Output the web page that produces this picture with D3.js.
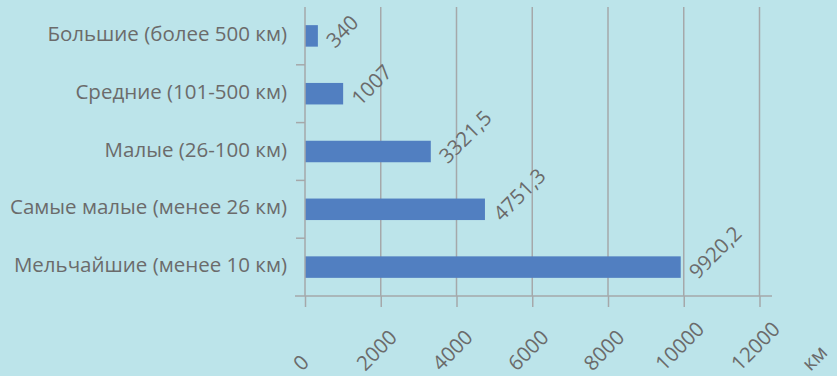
<html>
<head>
<meta charset="utf-8">
<script src="https://d3js.org/d3.v7.min.js"></script>
<style>
    body {
        margin: 0;
        background: #bce4ea;
    }
    svg {
        display: block;
        font-family: 'Open Sans', 'Noto Sans', sans-serif;
    }
    .grid line, .cat-tick, .axis-line {
        stroke: #a5a8aa;
        stroke-width: 1.5;
    }
    .label {
        fill: #6b6b6b;
        font-size: 20.5px;
    }
    .bar {
        fill: #517fc1;
    }
</style>
</head>
<body>

<svg id='chart' width=837 height=376></svg>

<script>

    // data
    var categories = [
        'Большие (более 500 км)',
        'Средние (101-500 км)',
        'Малые (26-100 км)',
        'Самые малые (менее 26 км)',
        'Мельчайшие (менее 10 км)'
    ];
    var lengths = [340, 1007, 3321.5, 4751.3, 9920.2];
    var valueLabels = ['340', '1007', '3321,5', '4751,3', '9920,2'];
    var xTicks = [0, 2000, 4000, 6000, 8000, 10000, 12000];
    var unitLabel = 'км';

    var svg = d3.select('#chart');

    var plot = {left: 305, right: 772, top: 7, bottom: 296};
    var fontSize = 20.5,
        capH = fontSize * 0.714;

    var x = d3.scaleLinear()
        .domain([0, 12330])
        .range([plot.left, plot.right]);

    var y = d3.scaleBand()
        .domain(categories)
        .range([plot.top, plot.bottom])
        .paddingInner(0.628)
        .paddingOuter(0.314);

    // band boundaries for the category ticks
    var yEdge = d3.scaleLinear()
        .domain([0, categories.length])
        .range([plot.top, plot.bottom]);

    // vertical gridlines
    svg.append('g')
        .attr('class', 'grid')
        .selectAll('line')
        .data(xTicks.slice(1))
      .enter()
        .append('line')
        .attr('x1', function(d) { return x(d); })
        .attr('x2', function(d) { return x(d); })
        .attr('y1', plot.top)
        .attr('y2', plot.bottom);

    // bars
    svg.append('g')
        .selectAll('rect')
        .data(lengths)
      .enter()
        .append('rect')
        .attr('class', 'bar')
        .attr('x', x(0))
        .attr('y', function(d, i) { return y(categories[i]); })
        .attr('width', function(d) { return x(d) - x(0); })
        .attr('height', y.bandwidth());

    // x axis (ticks only, labels drawn below)
    var xAxis = svg.append('g')
        .attr('transform', 'translate(0,' + plot.bottom + ')')
        .call(d3.axisBottom(x)
            .tickValues(xTicks)
            .tickSize(11)
            .tickSizeOuter(0)
            .tickFormat(''));
    xAxis.select('.domain').remove();
    xAxis.selectAll('line').attr('class', 'axis-line');

    // axis lines
    svg.append('line')
        .attr('class', 'axis-line')
        .attr('x1', x(0) - 10).attr('x2', plot.right)
        .attr('y1', plot.bottom).attr('y2', plot.bottom);
    svg.append('line')
        .attr('class', 'axis-line')
        .attr('x1', x(0)).attr('x2', x(0))
        .attr('y1', plot.top).attr('y2', plot.bottom);

    // category ticks on the band boundaries
    svg.append('g')
        .selectAll('line')
        .data(d3.range(1, categories.length))
      .enter()
        .append('line')
        .attr('class', 'cat-tick')
        .attr('x1', x(0) - 9).attr('x2', x(0))
        .attr('y1', function(d) { return yEdge(d); })
        .attr('y2', function(d) { return yEdge(d); });

    // category labels
    svg.append('g')
        .selectAll('text')
        .data(categories)
      .enter()
        .append('text')
        .attr('class', 'label')
        .attr('text-anchor', 'end')
        .attr('x', x(0) - 18)
        .attr('y', function(d) { return y(d) + y.bandwidth() / 2 + 5; })
        .text(function(d) { return d; });

    // value labels, rotated
    svg.append('g')
        .selectAll('text')
        .data(lengths)
      .enter()
        .append('text')
        .attr('class', 'label')
        .attr('transform', function(d, i) {
            var yc = y(categories[i]) + y.bandwidth() / 2;
            return 'translate(' + (x(d) + 17) + ',' + (yc + 13) + ') rotate(-45)';
        })
        .text(function(d, i) { return valueLabels[i]; });

    // rotated tick labels: centred a bit left of the tick, bottoms on one line
    var labelBottom = 372;

    function placeRotated(sel, cx) {
        sel.each(function(d) {
            var t = d3.select(this);
            var len = this.getComputedTextLength();
            var half = (len + capH) / 2 * Math.SQRT1_2;
            t.attr('transform', 'translate(' + cx(d) + ',' + (labelBottom - half) + ') rotate(-45)');
        });
    }

    svg.append('g')
        .selectAll('text')
        .data(xTicks)
      .enter()
        .append('text')
        .attr('class', 'label')
        .attr('text-anchor', 'middle')
        .attr('dy', '0.35em')
        .text(function(d) { return d; })
        .call(placeRotated, function(d) { return x(d) - 4; });

    svg.append('text')
        .datum(unitLabel)
        .attr('class', 'label')
        .attr('text-anchor', 'middle')
        .attr('dy', '0.35em')
        .text(unitLabel)
        .call(placeRotated, function() { return x(12000) + 55; });

</script>

</body>
</html>
